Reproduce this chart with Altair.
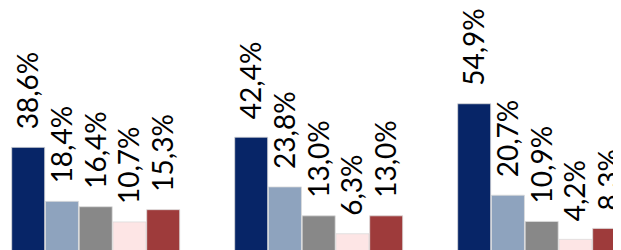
import altair as alt
import pandas as pd

groups = ["1", "2", "3"]
series = ["s1", "s2", "s3", "s4", "s5"]
colors = ["#072567", "#8EA3BE", "#888888", "#FDE5E5", "#9E3B3B"]
values = [
    [38.6, 18.4, 16.4, 10.7, 15.3],
    [42.4, 23.8, 13.0, 6.3, 13.0],
    [54.9, 20.7, 10.9, 4.2, 8.3],
]

rows = []
for gi, (g, vals) in enumerate(zip(groups, values)):
    for si, (s, v) in enumerate(zip(series, vals)):
        rows.append({"group": g, "gi": gi, "series": s, "si": si, "value": v,
                     "label": f"{v:.1f}".replace(".", ",") + "%"})
df = pd.DataFrame(rows)

GROUP_STEP = 6.607   # group spacing in units of one bar slot
BAR_W = 0.978        # bar width as a share of one bar slot

base = alt.Chart(df).transform_calculate(
    pos=f"datum.gi * {GROUP_STEP} + datum.si",
    pos2=f"datum.gi * {GROUP_STEP} + datum.si + {BAR_W}",
    mid=f"datum.gi * {GROUP_STEP} + datum.si + {BAR_W / 2}",
)

xs = alt.Scale(domain=[-0.1096, 17.816], nice=False, zero=False)
ys = alt.Scale(domain=[0.22, 90.69], nice=False, zero=False)

bars = base.mark_bar(stroke="#dcdcdc", strokeWidth=0.8).encode(
    x=alt.X("pos:Q", axis=None, scale=xs),
    x2="pos2:Q",
    y=alt.Y("value:Q", axis=None, scale=ys),
    y2=alt.datum(0),
    color=alt.Color("series:N", sort=series,
                    scale=alt.Scale(domain=series, range=colors), legend=None),
)

labels = base.mark_text(angle=270, align="left", baseline="middle", dx=18, dy=2,
                        font="Lato", fontSize=28, color="black").encode(
    x=alt.X("mid:Q", axis=None, scale=xs),
    y=alt.Y("value:Q", axis=None, scale=ys),
    text="label:N",
)

chart = (bars + labels).properties(
    width=605, height=242, padding=0, autosize=alt.AutoSizeParams(type="none")
).configure_view(stroke=None)

chart.save("out.html", embed_options={"renderer": "svg", "actions": False})
